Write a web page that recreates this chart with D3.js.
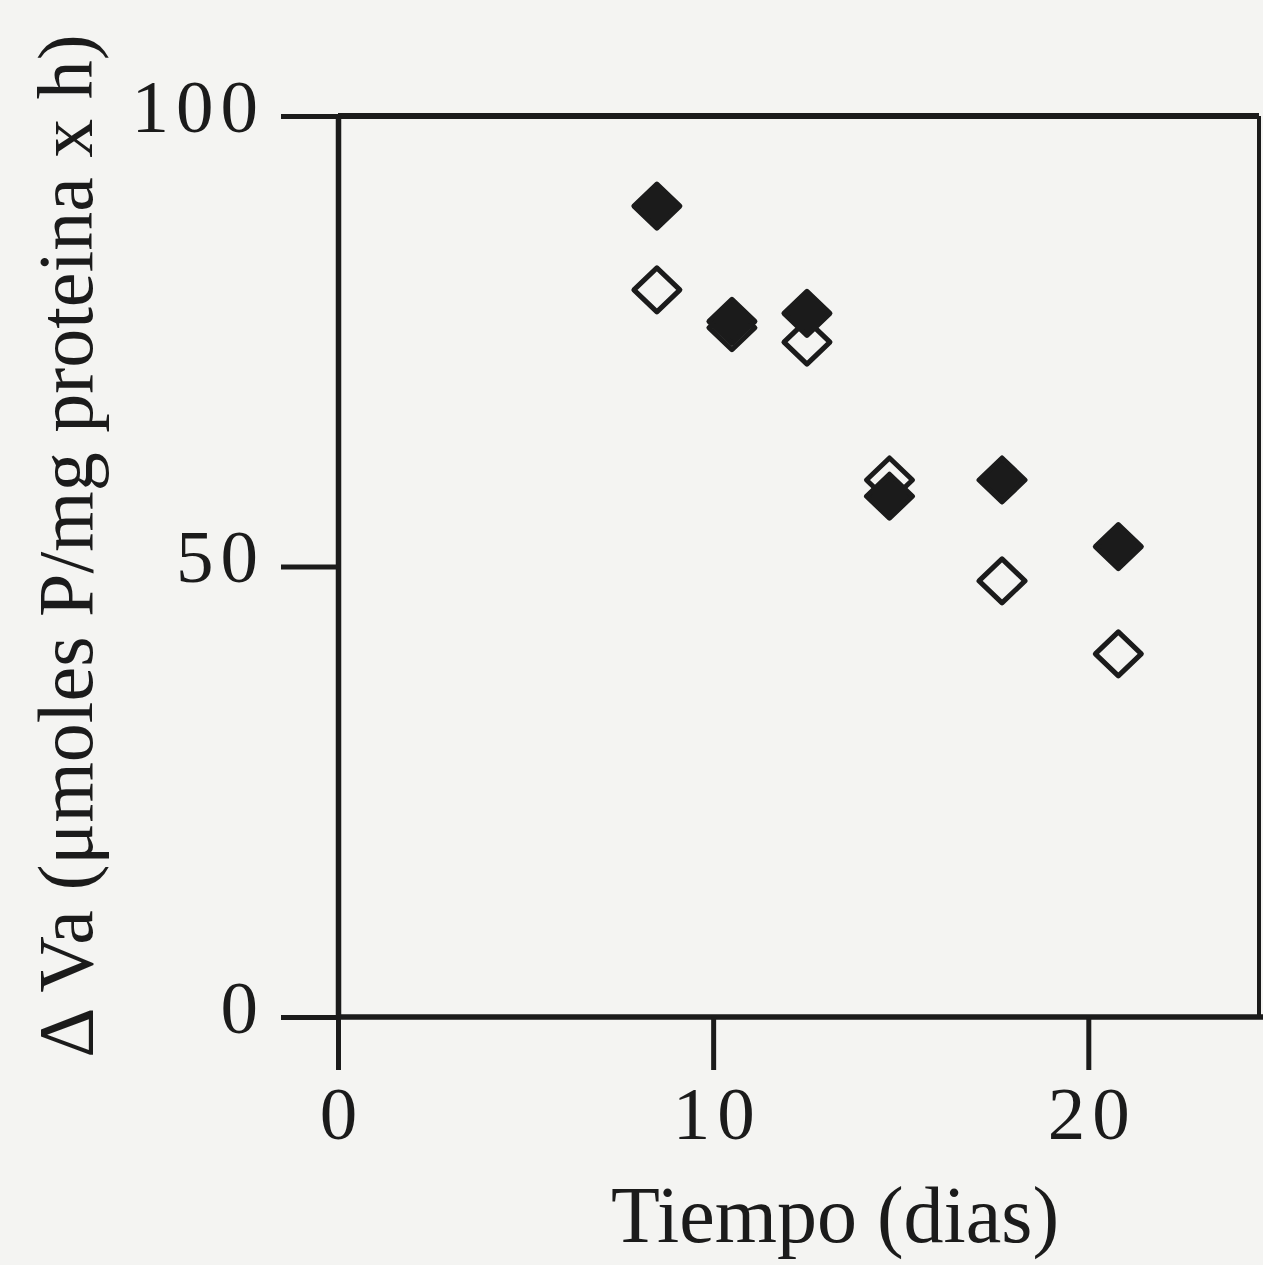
<!DOCTYPE html>
<html>
<head>
<meta charset="utf-8">
<script src="https://cdn.jsdelivr.net/npm/d3@7"></script>
<style>
  html, body { margin: 0; padding: 0; background: #f4f4f2; }
  svg { display: block; }
  text { font-family: "Liberation Serif", "Times New Roman", serif; fill: #1b1b1b; }
</style>
</head>
<body>
<svg id="chart" width="1263" height="1265"></svg>
<script>
// Sampling days and activity values for the two series
const dias = [8.5, 10.5, 12.5, 14.7, 17.7, 20.8];
const serieLlena = [90.0, 77.2, 78.1, 57.8, 59.6, 52.2];   // filled diamonds
const serieAbierta = [80.7, 76.5, 74.9, 59.6, 48.4, 40.3]; // open diamonds

const xTicks = [0, 10, 20];
const yTicks = [0, 50, 100];
const xLabel = "Tiempo (dias)";
const yLabel = "Δ Va (μmoles P/mg proteina x h)";

const svg = d3.select("#chart");
const ink = "#1b1b1b";
const paper = "#f4f4f2";

const x = d3.scaleLinear().domain([0, 24.55]).range([338, 1259]);
const y = d3.scaleLinear().domain([0, 100]).range([1017, 116]);

// Frame: top and right edges
svg.append("line")
  .attr("x1", x(0)).attr("x2", x(24.55))
  .attr("y1", y(100)).attr("y2", y(100))
  .attr("stroke", ink).attr("stroke-width", 6);
svg.append("line")
  .attr("x1", x(24.55)).attr("x2", x(24.55))
  .attr("y1", y(100)).attr("y2", y(0))
  .attr("stroke", ink).attr("stroke-width", 4);

// Axes
const xAxis = d3.axisBottom(x).tickValues(xTicks).tickSize(53).tickSizeOuter(0).tickPadding(16);
const yAxis = d3.axisLeft(y).tickValues(yTicks).tickSize(57).tickSizeOuter(0).tickPadding(16);

const gx = svg.append("g").attr("transform", `translate(0,${y(0)})`).call(xAxis);
const gy = svg.append("g").attr("transform", `translate(${x(0)},0)`).call(yAxis);

[gx, gy].forEach(g => {
  g.select(".domain").attr("stroke", ink).attr("stroke-width", 5.5);
  g.selectAll(".tick line").attr("stroke", ink).attr("stroke-width", 5);
  g.selectAll(".tick text")
    .attr("font-family", "Liberation Serif, serif")
    .attr("font-size", 75)
    .attr("letter-spacing", 7)
    .attr("fill", ink);
});
gx.select(".domain").attr("d", `M${x(0)},0H1263`);
gx.selectAll(".tick text").attr("dx", 3.5);
gy.selectAll(".tick text").attr("dy", "0.2em");

// Axis titles
svg.append("text")
  .attr("x", 835).attr("y", 1242)
  .attr("text-anchor", "middle")
  .attr("font-size", 80)
  .text(xLabel);

svg.append("text")
  .attr("transform", "translate(92,546) rotate(-90)")
  .attr("text-anchor", "middle")
  .attr("font-size", 78)
  .text(yLabel);

// Diamond marker
const hw = 23, hh = 22;
const diamond = `M0,${-hh}L${hw},0L0,${hh}L${-hw},0Z`;

const abiertos = dias.map((d, i) => ({ d, v: serieAbierta[i] }));
const llenos = dias.map((d, i) => ({ d, v: serieLlena[i] }));

svg.append("g").selectAll("path")
  .data(abiertos).join("path")
  .attr("d", diamond)
  .attr("transform", p => `translate(${x(p.d)},${y(p.v)})`)
  .attr("fill", paper)
  .attr("stroke", ink)
  .attr("stroke-width", 5)
  .attr("stroke-linejoin", "round");

svg.append("g").selectAll("path")
  .data(llenos).join("path")
  .attr("d", diamond)
  .attr("transform", p => `translate(${x(p.d)},${y(p.v)})`)
  .attr("fill", ink)
  .attr("stroke", ink)
  .attr("stroke-width", 5)
  .attr("stroke-linejoin", "round");
</script>
</body>
</html>
